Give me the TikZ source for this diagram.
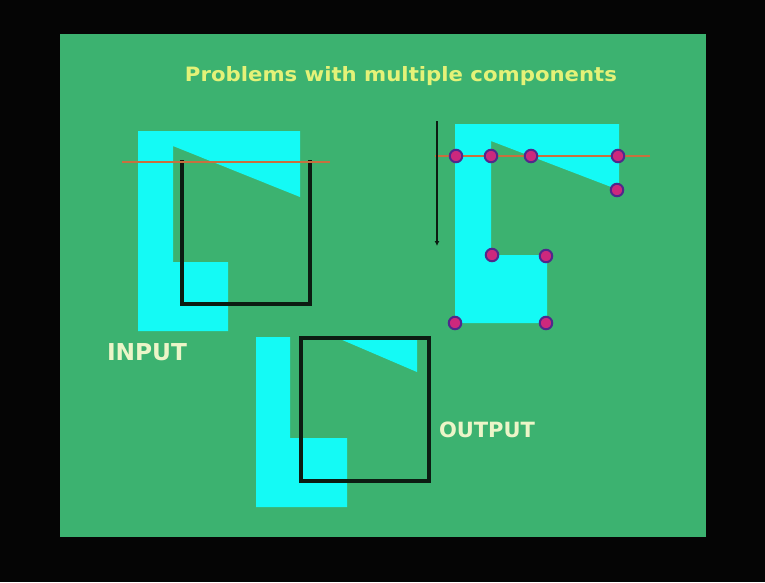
\documentclass[tikz,border=0pt]{standalone}
\usepackage{fontspec}
\setmainfont{DejaVu Sans}
\usetikzlibrary{arrows.meta}
\definecolor{slidegreen}{RGB}{60,178,112}
\definecolor{shapecyan}{RGB}{20,250,245}
\definecolor{titleyellow}{RGB}{228,242,120}
\definecolor{labelpale}{RGB}{236,245,200}
\definecolor{scanorange}{RGB}{200,112,62}
\definecolor{dotpink}{RGB}{205,40,125}
\definecolor{dotring}{RGB}{80,40,140}
\definecolor{bgblack}{RGB}{5,5,5}
\definecolor{boxblack}{RGB}{12,28,18}
\tikzset{
  cyanfill/.style={fill=shapecyan, draw=none},
  blackbox/.style={draw=boxblack, line width=3.4pt, line cap=rect},
  scanline/.style={draw=scanorange, line width=1.5pt},
  vdot/.style={circle, fill=dotpink, draw=dotring, line width=2pt, minimum size=12.5pt, inner sep=0pt},
  slidelabel/.style={text=labelpale, font=\bfseries, inner sep=0pt},
}
\begin{document}
\begin{tikzpicture}[x=1pt,y=-1pt]
\fill[bgblack] (0,0) rectangle (765,582);
\useasboundingbox (0,0) rectangle (765,582);
\fill[slidegreen] (59.5,33.5) rectangle (706,537);

% title
\node[text=titleyellow, font=\bfseries, inner sep=0pt] (title) at (401,76.5)
  {\resizebox{432pt}{15pt}{Problems with multiple components}};

% ---------- INPUT ----------
\fill[cyanfill] (138,131) -- (300,131) -- (300,197) -- (173,146) -- (173,262)
  -- (228,262) -- (228,331) -- (138,331) -- cycle;
\draw[blackbox] (182,162) -- (182,304) -- (310,304) -- (310,162);
\draw[scanline] (122,162) -- (330,162);
\node[slidelabel] (input) at (147,352) {\resizebox{80pt}{!}{INPUT}};

% ---------- right: vertex scan ----------
\fill[cyanfill] (455,124) -- (619,124) -- (619,190) -- (491,141) -- (491,255)
  -- (547,255) -- (547,323) -- (455,323) -- cycle;
\draw[scanline] (435,156) -- (650,156);
\coordinate (arrtop) at (437,121);
\coordinate (arrbot) at (437,246);
\draw[boxblack, line width=1.6pt, -{Latex[length=5pt,width=5pt]}] (arrtop) -- (arrbot);
\node[vdot] (v1) at (456,156) {};
\node[vdot] (v2) at (491,156) {};
\node[vdot] (v3) at (531,156) {};
\node[vdot] (v4) at (618,156) {};
\node[vdot] (v5) at (617,190) {};
\node[vdot] (v6) at (492,255) {};
\node[vdot] (v7) at (546,256) {};
\node[vdot] (v8) at (455,323) {};
\node[vdot] (v9) at (546,323) {};

% ---------- OUTPUT ----------
\fill[cyanfill] (256,337) -- (290,337) -- (290,438) -- (347,438) -- (347,507)
  -- (256,507) -- cycle;
\fill[cyanfill] (340,339) -- (417,339) -- (417,372) -- cycle;
\draw[blackbox] (301,338) rectangle (429,481);
\node[slidelabel] (output) at (487,430) {\resizebox{96pt}{!}{OUTPUT}};
\end{tikzpicture}
\end{document}
